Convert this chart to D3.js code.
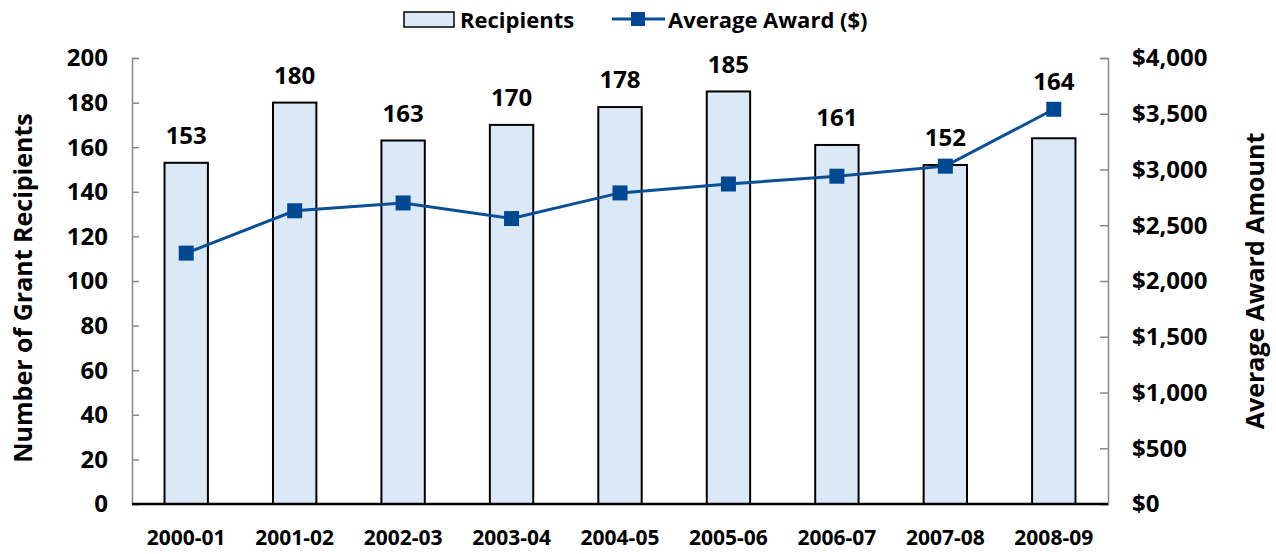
<!DOCTYPE html>
<html>
<head>
<meta charset="utf-8">
<script src="https://cdn.jsdelivr.net/npm/d3@7"></script>
<style>
  body { margin: 0; background: #fff; }
  text { font-family: "Open Sans", Lato, sans-serif; font-weight: bold; fill: #000; }
</style>
</head>
<body>
<div id="chart"></div>
<script>
var years = ["2000-01", "2001-02", "2002-03", "2003-04", "2004-05", "2005-06", "2006-07", "2007-08", "2008-09"];
var recipients = [153, 180, 163, 170, 178, 185, 161, 152, 164];
var avgAward = [2250, 2630, 2700, 2560, 2790, 2870, 2940, 3030, 3540];
var leftTicks = [0, 20, 40, 60, 80, 100, 120, 140, 160, 180, 200];
var rightTicks = [0, 500, 1000, 1500, 2000, 2500, 3000, 3500, 4000];

var width = 1276, height = 554;
var margin = {top: 58, right: 168, bottom: 50, left: 132};

var svg = d3.select("#chart").append("svg")
    .attr("width", width).attr("height", height);

var x = d3.scaleBand()
    .domain(years)
    .range([margin.left, width - margin.right])
    .paddingInner(0.6).paddingOuter(0.3);

var y = d3.scaleLinear().domain([0, 200]).range([height - margin.bottom, margin.top]);
var y2 = d3.scaleLinear().domain([0, 4000]).range([height - margin.bottom, margin.top]);

var fmtMoney = function(d) { return "$" + d3.format(",")(d); };

// left axis
svg.append("g")
    .attr("class", "y-axis")
    .attr("transform", "translate(" + margin.left + ",0)")
    .call(d3.axisRight(y).tickValues(leftTicks).tickSize(7).tickFormat(""))
    .call(g => g.selectAll("line, path").attr("stroke", "#888").attr("stroke-width", 1.5));

svg.append("g").selectAll("text")
    .data(leftTicks)
    .enter().append("text")
    .attr("x", margin.left - 24)
    .attr("y", d => y(d))
    .attr("dy", "0.35em")
    .attr("text-anchor", "end")
    .attr("font-size", "24px")
    .text(d => d);

// right axis
svg.append("g")
    .attr("class", "y2-axis")
    .attr("transform", "translate(" + (width - margin.right) + ",0)")
    .call(d3.axisLeft(y2).tickValues(rightTicks).tickSize(8).tickFormat(""))
    .call(g => g.selectAll("line, path").attr("stroke", "#888").attr("stroke-width", 1.5));

svg.append("g").selectAll("text")
    .data(rightTicks)
    .enter().append("text")
    .attr("x", width - margin.right + 24)
    .attr("y", d => y2(d))
    .attr("dy", "0.35em")
    .attr("text-anchor", "start")
    .attr("font-size", "24px")
    .text(fmtMoney);

// bars
svg.append("g").selectAll("rect")
    .data(recipients)
    .enter().append("rect")
    .attr("x", (d, i) => x(years[i]))
    .attr("y", d => y(d))
    .attr("width", x.bandwidth())
    .attr("height", d => y(0) - y(d))
    .attr("fill", "#dbe8f6")
    .attr("stroke", "#000")
    .attr("stroke-width", 2);

// bottom axis
svg.append("line")
    .attr("x1", margin.left).attr("x2", width - margin.right)
    .attr("y1", y(0)).attr("y2", y(0))
    .attr("stroke", "#000").attr("stroke-width", 2.5);

svg.append("g").selectAll("text")
    .data(years)
    .enter().append("text")
    .attr("x", d => x(d) + x.bandwidth() / 2)
    .attr("y", height - 9)
    .attr("text-anchor", "middle")
    .attr("font-size", "21px")
    .text(d => d);

// line
var line = d3.line()
    .x((d, i) => x(years[i]) + x.bandwidth() / 2)
    .y(d => y2(d));

svg.append("path")
    .attr("d", line(avgAward))
    .attr("fill", "none")
    .attr("stroke", "#0a4f96")
    .attr("stroke-width", 3);

svg.append("g").selectAll("rect")
    .data(avgAward)
    .enter().append("rect")
    .attr("x", (d, i) => x(years[i]) + x.bandwidth() / 2 - 7.5)
    .attr("y", d => y2(d) - 7.5)
    .attr("width", 15).attr("height", 15)
    .attr("fill", "#004892");

// bar labels, lifted over the line marker where they would collide
svg.append("g").selectAll("text")
    .data(recipients)
    .enter().append("text")
    .attr("x", (d, i) => x(years[i]) + x.bandwidth() / 2)
    .attr("y", (d, i) => Math.min(y(d) - 27, y2(avgAward[i]) - 28))
    .attr("dy", "0.35em")
    .attr("text-anchor", "middle")
    .attr("font-size", "24px")
    .text(d => d);

// axis titles
svg.append("text")
    .attr("transform", "translate(32,288) rotate(-90)")
    .attr("text-anchor", "middle")
    .attr("font-size", "25px")
    .text("Number of Grant Recipients");

svg.append("text")
    .attr("transform", "translate(1264,281) rotate(-90)")
    .attr("text-anchor", "middle")
    .attr("font-size", "25px")
    .text("Average Award Amount");

// legend
var legend = svg.append("g").attr("class", "legend");
legend.append("rect")
    .attr("x", 404).attr("y", 12)
    .attr("width", 50).attr("height", 15)
    .attr("fill", "#dbe8f6").attr("stroke", "#000").attr("stroke-width", 1.5);
legend.append("text")
    .attr("x", 460).attr("y", 20)
    .attr("dy", "0.35em")
    .attr("font-size", "22px")
    .text("Recipients");
legend.append("line")
    .attr("x1", 612).attr("x2", 665).attr("y1", 19).attr("y2", 19)
    .attr("stroke", "#0a4f96").attr("stroke-width", 3);
legend.append("rect")
    .attr("x", 631).attr("y", 12).attr("width", 14).attr("height", 14)
    .attr("fill", "#004892");
legend.append("text")
    .attr("x", 668).attr("y", 20)
    .attr("dy", "0.35em")
    .attr("font-size", "22px")
    .text("Average Award ($)");
</script>
</body>
</html>
